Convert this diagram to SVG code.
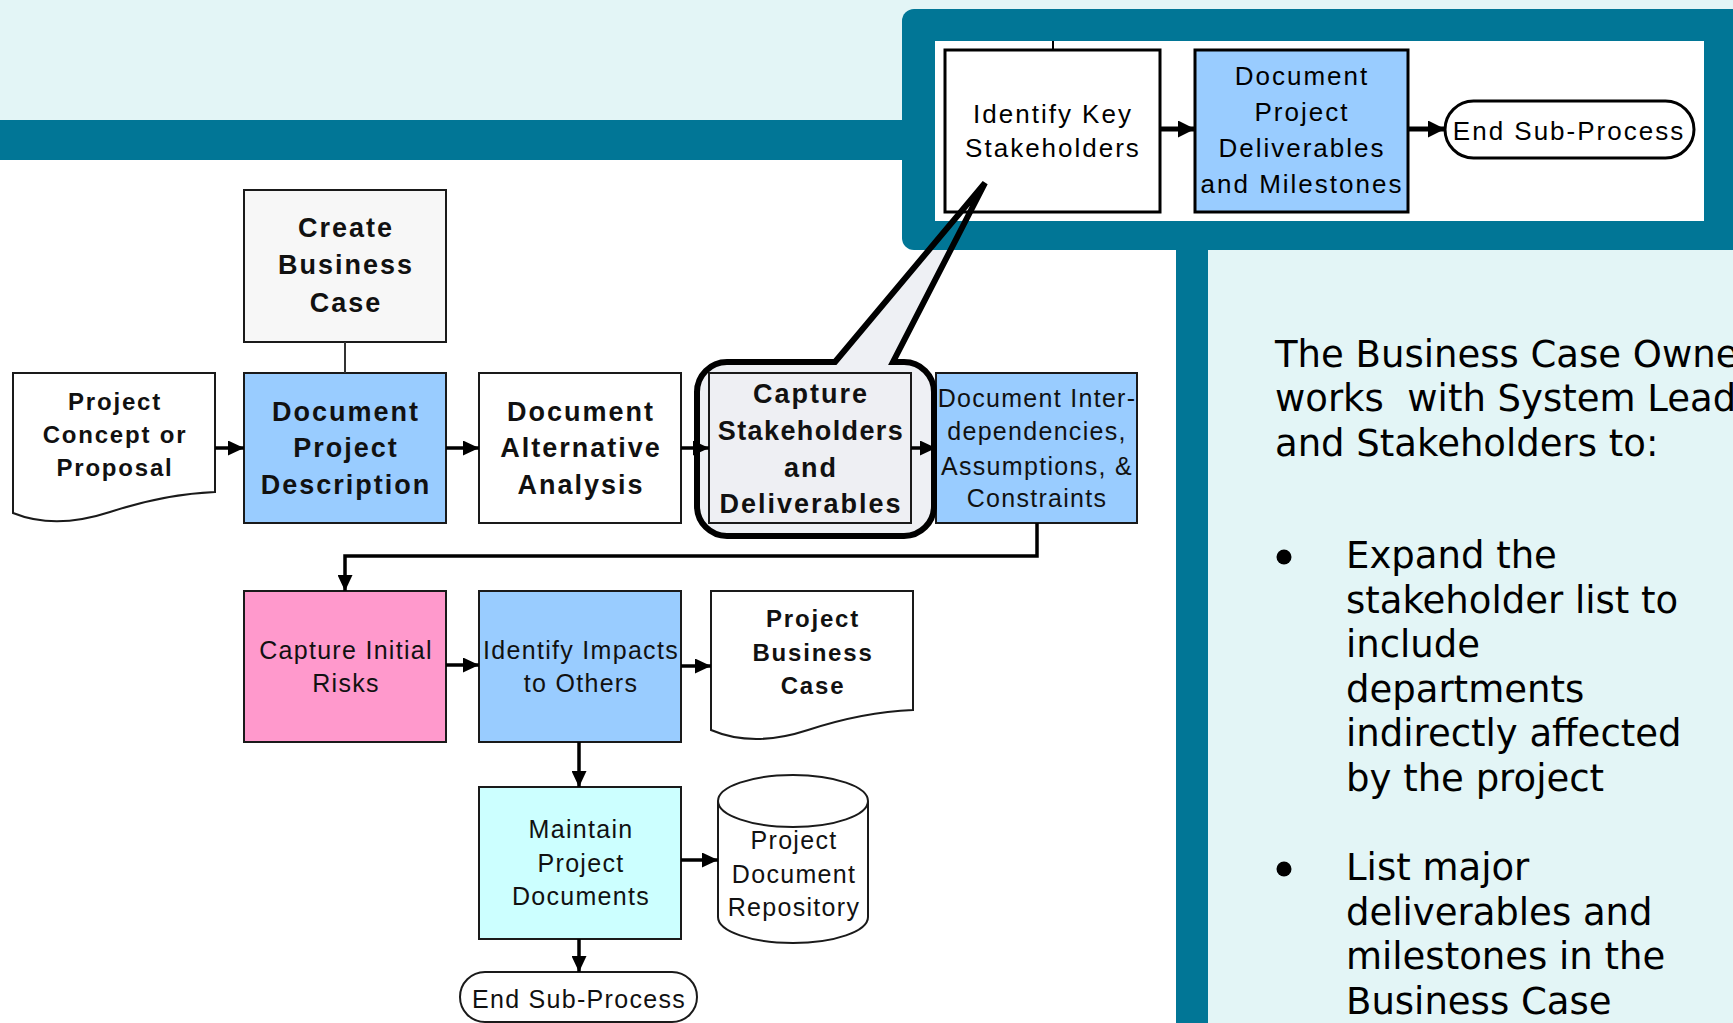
<svg xmlns="http://www.w3.org/2000/svg" width="1733" height="1023" viewBox="0 0 1733 1023">
  <style>
    .box { stroke: #1a1a1a; stroke-width: 2; }
    .box3 { stroke: #000; stroke-width: 3; }
    .lbl { font-family: "Liberation Sans", Arial, sans-serif; font-size: 25px; letter-spacing: 1.3px; fill: #111; text-anchor: middle; }
    .bold { font-weight: 700; font-size: 27px; letter-spacing: 2px; }
    .doc { font-weight: 700; font-size: 24px; letter-spacing: 1.8px; }
    .top { font-size: 26px; letter-spacing: 2px; fill: #000; }
    .body { font-family: "DejaVu Sans", Verdana, sans-serif; font-size: 37px; fill: #000; }
    .conn { stroke: #000; stroke-width: 3.5; fill: none; }
    .conn-top { stroke: #000; stroke-width: 5; fill: none; }
  </style>
  <defs>
    <marker id="arrow" markerUnits="userSpaceOnUse" markerWidth="16" markerHeight="15" refX="16" refY="7.5" orient="auto">
      <path d="M0,0 L16,7.5 L0,15 Z" fill="#000"/>
    </marker>
    <marker id="arrowBig" markerUnits="userSpaceOnUse" markerWidth="17" markerHeight="17" refX="17" refY="8.5" orient="auto">
      <path d="M0,0 L17,8.5 L0,17 Z" fill="#000"/>
    </marker>
    <!-- speech-bubble outline around the highlighted step, pointing up at the detail panel -->
    <path id="calloutShape" d="M835,362 L985,183 L893,362 H904 A30,30 0 0 1 934,392 V506 A30,30 0 0 1 904,536 H727 A30,30 0 0 1 697,506 V392 A30,30 0 0 1 727,362 Z"/>
  </defs>

  <!-- page background -->
  <g id="background">
    <rect x="0" y="0" width="1733" height="1023" fill="#ffffff"/>
    <rect x="0" y="0" width="1733" height="120" fill="#E3F5F6"/>
    <rect x="1208" y="250" width="525" height="773" fill="#E3F5F6"/>
    <use href="#calloutShape" fill="#EEF0F4"/>
    <rect x="0" y="120" width="910" height="40" fill="#017696"/>
    <rect x="902" y="9" width="845" height="241" rx="12" fill="#017696"/>
    <rect x="935" y="41" width="769" height="180" fill="#ffffff"/>
    <rect x="1176" y="245" width="32" height="778" fill="#017696"/>
  </g>

  <!-- detail panel: sub-process of the highlighted step -->
  <g id="identify-key-stakeholders">
    <rect class="box3" x="945" y="50" width="215" height="162" fill="#ffffff"/>
    <text class="lbl top" x="1053" y="123">Identify Key</text>
    <text class="lbl top" x="1053" y="157">Stakeholders</text>
  </g>
  <g id="document-deliverables-milestones">
    <rect class="box3" x="1195" y="50" width="213" height="162" fill="#99CCFF"/>
    <text class="lbl top" x="1302" y="85">Document</text>
    <text class="lbl top" x="1302" y="121">Project</text>
    <text class="lbl top" x="1302" y="157">Deliverables</text>
    <text class="lbl top" x="1302" y="193">and Milestones</text>
  </g>
  <g id="end-top">
    <rect class="box3" x="1445" y="101" width="249" height="57" rx="28.5" fill="#ffffff"/>
    <text class="lbl top" x="1569" y="140">End Sub-Process</text>
  </g>

  <!-- main flow -->
  <g id="create-business-case">
    <rect class="box" x="244" y="190" width="202" height="152" fill="#F7F7F7"/>
    <text class="lbl bold" x="346" y="237">Create</text>
    <text class="lbl bold" x="346" y="274">Business</text>
    <text class="lbl bold" x="346" y="312">Case</text>
  </g>
  <g id="project-concept">
    <path class="box" d="M13,373 H215 V492 Q165,494 110,512 Q55,530 13,513 Z" fill="#ffffff"/>
    <text class="lbl doc" x="115" y="410">Project</text>
    <text class="lbl doc" x="115" y="443">Concept or</text>
    <text class="lbl doc" x="115" y="476">Proposal</text>
  </g>
  <g id="document-project-description">
    <rect class="box" x="244" y="373" width="202" height="150" fill="#99CCFF"/>
    <text class="lbl bold" x="346" y="421">Document</text>
    <text class="lbl bold" x="346" y="457">Project</text>
    <text class="lbl bold" x="346" y="494">Description</text>
  </g>
  <g id="document-alternative-analysis">
    <rect class="box" x="479" y="373" width="202" height="150" fill="#ffffff"/>
    <text class="lbl bold" x="581" y="421">Document</text>
    <text class="lbl bold" x="581" y="457">Alternative</text>
    <text class="lbl bold" x="581" y="494">Analysis</text>
  </g>
  <g id="capture-stakeholders">
    <rect class="box" x="709" y="373" width="202" height="150" fill="#EEEFF3"/>
    <text class="lbl bold" x="811" y="403">Capture</text>
    <text class="lbl bold" x="811" y="440" style="letter-spacing:1.4px">Stakeholders</text>
    <text class="lbl bold" x="811" y="477">and</text>
    <text class="lbl bold" x="811" y="513">Deliverables</text>
  </g>
  <g id="document-interdependencies">
    <rect class="box" x="936" y="373" width="201" height="150" fill="#99CCFF"/>
    <text class="lbl" x="1037" y="407">Document Inter-</text>
    <text class="lbl" x="1037" y="440">dependencies,</text>
    <text class="lbl" x="1037" y="475">Assumptions, &amp;</text>
    <text class="lbl" x="1037" y="507">Constraints</text>
  </g>
  <g id="capture-initial-risks">
    <rect class="box" x="244" y="591" width="202" height="151" fill="#FF99CC"/>
    <text class="lbl" x="346" y="659">Capture Initial</text>
    <text class="lbl" x="346" y="692">Risks</text>
  </g>
  <g id="identify-impacts">
    <rect class="box" x="479" y="591" width="202" height="151" fill="#99CCFF"/>
    <text class="lbl" x="581" y="659">Identify Impacts</text>
    <text class="lbl" x="581" y="692">to Others</text>
  </g>
  <g id="project-business-case">
    <path class="box" d="M711,591 H913 V710 Q863,712 808,730 Q753,748 711,730 Z" fill="#ffffff"/>
    <text class="lbl doc" x="813" y="627">Project</text>
    <text class="lbl doc" x="813" y="661">Business</text>
    <text class="lbl doc" x="813" y="694">Case</text>
  </g>
  <g id="maintain-project-documents">
    <rect class="box" x="479" y="787" width="202" height="152" fill="#CCFFFF"/>
    <text class="lbl" x="581" y="838">Maintain</text>
    <text class="lbl" x="581" y="872">Project</text>
    <text class="lbl" x="581" y="905">Documents</text>
  </g>
  <g id="document-repository">
    <path class="box" d="M718,801 A75,26 0 0 1 868,801 V917 A75,26 0 0 1 718,917 Z" fill="#ffffff"/>
    <path class="box" d="M718,801 A75,26 0 0 0 868,801" fill="none"/>
    <text class="lbl" x="794" y="849">Project</text>
    <text class="lbl" x="794" y="883">Document</text>
    <text class="lbl" x="794" y="916">Repository</text>
  </g>
  <g id="end-bottom">
    <rect class="box" x="460" y="972" width="237" height="50" rx="25" fill="#ffffff"/>
    <text class="lbl" x="579" y="1008">End Sub-Process</text>
  </g>

  <!-- callout outline drawn over the panels it crosses -->
  <g id="callout">
    <use href="#calloutShape" fill="none" stroke="#000" stroke-width="6" stroke-linejoin="miter" stroke-miterlimit="3"/>
  </g>

  <g id="connectors">
    <line x1="345" y1="342" x2="345" y2="373" stroke="#333" stroke-width="2"/>
    <line x1="1053" y1="41" x2="1053" y2="50" stroke="#000" stroke-width="2"/>
    <line class="conn" x1="215" y1="448" x2="244" y2="448" marker-end="url(#arrow)"/>
    <line class="conn" x1="446" y1="448" x2="479" y2="448" marker-end="url(#arrow)"/>
    <line class="conn" x1="681" y1="448" x2="709" y2="448" marker-end="url(#arrow)"/>
    <line class="conn" x1="911" y1="448" x2="936" y2="448" marker-end="url(#arrow)"/>
    <path class="conn" d="M1037,523 V556 H345 V591" marker-end="url(#arrow)"/>
    <line class="conn" x1="446" y1="665" x2="479" y2="665" marker-end="url(#arrow)"/>
    <line class="conn" x1="681" y1="666" x2="711" y2="666" marker-end="url(#arrow)"/>
    <line class="conn" x1="579" y1="742" x2="579" y2="787" marker-end="url(#arrow)"/>
    <line class="conn" x1="681" y1="860" x2="718" y2="860" marker-end="url(#arrow)"/>
    <line class="conn" x1="579" y1="939" x2="579" y2="972" marker-end="url(#arrow)"/>
    <line class="conn-top" x1="1160" y1="129" x2="1195" y2="129" marker-end="url(#arrowBig)"/>
    <line class="conn-top" x1="1408" y1="129" x2="1445" y2="129" marker-end="url(#arrowBig)"/>
  </g>

  <!-- explanatory notes -->
  <g id="notes" class="body">
    <text x="1275" y="367">The Business Case Owner</text>
    <text x="1275" y="411" xml:space="preserve" style="white-space:pre">works  with System Leads</text>
    <text x="1275" y="456">and Stakeholders to:</text>
    <circle cx="1284" cy="557" r="7.5" fill="#000"/>
    <text x="1346" y="568">Expand the</text>
    <text x="1346" y="613">stakeholder list to</text>
    <text x="1346" y="657">include</text>
    <text x="1346" y="702">departments</text>
    <text x="1346" y="746">indirectly affected</text>
    <text x="1346" y="791">by the project</text>
    <circle cx="1284" cy="869" r="7.5" fill="#000"/>
    <text x="1346" y="880">List major</text>
    <text x="1346" y="925">deliverables and</text>
    <text x="1346" y="969">milestones in the</text>
    <text x="1346" y="1014">Business Case</text>
  </g>
</svg>
